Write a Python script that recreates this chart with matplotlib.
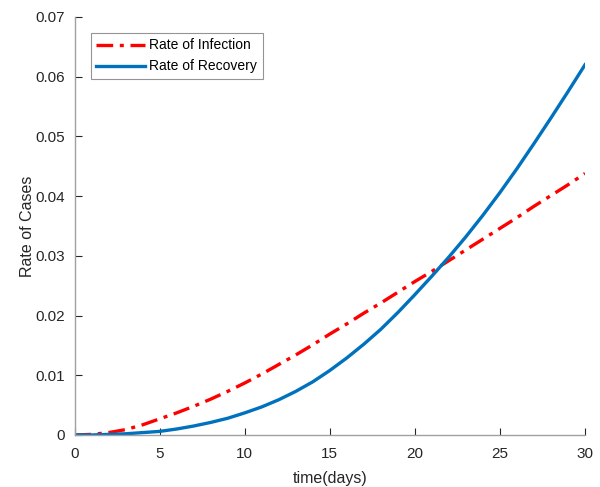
import matplotlib
matplotlib.use("Agg")
import matplotlib.pyplot as plt
from matplotlib.ticker import FuncFormatter

# --- data (daily samples) ---
days = list(range(0, 31))
infection = [0.0000, 0.0001, 0.0004, 0.0009, 0.0017, 0.0027, 0.0037, 0.0048,
             0.0060, 0.0073, 0.0087, 0.0102, 0.0118, 0.0134, 0.0151, 0.0169,
             0.0186, 0.0204, 0.0221, 0.0239, 0.0257, 0.0274, 0.0292, 0.0310,
             0.0328, 0.0346, 0.0364, 0.0383, 0.0401, 0.0419, 0.0438]
recovery = [0.0000, 0.0000, 0.0001, 0.0002, 0.0004, 0.0006, 0.0010, 0.0015,
            0.0021, 0.0028, 0.0037, 0.0047, 0.0059, 0.0073, 0.0089, 0.0108,
            0.0129, 0.0152, 0.0177, 0.0205, 0.0235, 0.0266, 0.0298, 0.0332,
            0.0368, 0.0406, 0.0446, 0.0488, 0.0531, 0.0575, 0.0620]
x_ticks = [0, 5, 10, 15, 20, 25, 30]
y_ticks = [0, 0.01, 0.02, 0.03, 0.04, 0.05, 0.06, 0.07]

plt.rcParams["font.family"] = ["Liberation Sans", "DejaVu Sans"]

fig = plt.figure(figsize=(6.0, 4.87), dpi=100)
ax = fig.add_axes([0.1242, 0.1068, 0.8508, 0.8583])

ax.plot(days, infection, color="#ff0000", linestyle="-.", linewidth=2.4,
        dashes=(5, 2, 1.2, 2), label="Rate of Infection")
ax.plot(days, recovery, color="#0072bd", linewidth=2.4,
        label="Rate of Recovery")

ax.set_xlim(0, 30)
ax.set_ylim(0, 0.07)
ax.set_xticks(x_ticks)
ax.set_yticks(y_ticks)
ax.yaxis.set_major_formatter(FuncFormatter(lambda v, p: f"{v:g}"))

for side in ("top", "right"):
    ax.spines[side].set_visible(False)
for side in ("left", "bottom"):
    ax.spines[side].set_color("#a0a0a0")
    ax.spines[side].set_linewidth(1.0)
ax.tick_params(direction="in", length=5, width=0.8, color="#262626",
               labelsize=11, labelcolor="#262626")
ax.tick_params(axis="x", pad=9)
ax.tick_params(axis="y", pad=7)

ax.set_xlabel("time(days)", fontsize=11.5, color="#262626", labelpad=7)
ax.set_ylabel("Rate of Cases", fontsize=11.5, color="#262626", labelpad=0)

leg = ax.legend(loc="upper left", bbox_to_anchor=(0.032, 0.962),
                fontsize=10, frameon=True, fancybox=False,
                handlelength=3.5, handletextpad=0.3, borderpad=0.4,
                labelspacing=0.5, borderaxespad=0)
leg.get_frame().set_edgecolor("#7a7a7a")
leg.get_frame().set_linewidth(0.8)

fig.savefig("out.png", dpi=100)
